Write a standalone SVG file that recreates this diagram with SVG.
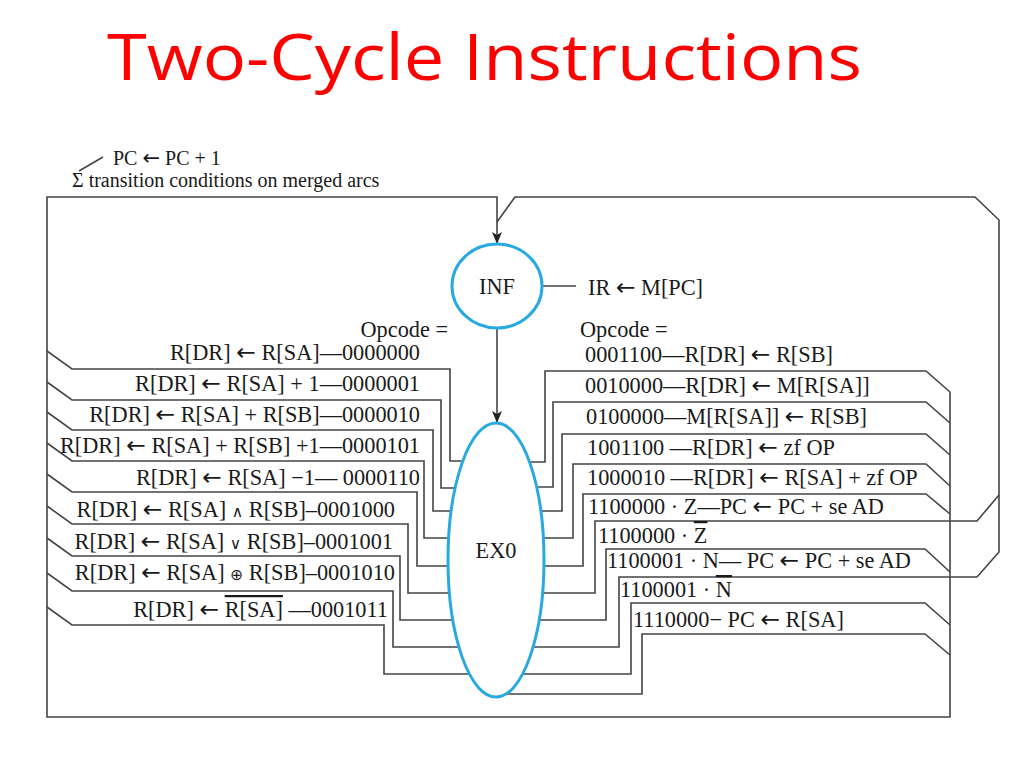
<svg xmlns="http://www.w3.org/2000/svg" width="1024" height="768" viewBox="0 0 1024 768">
<style>
.t{font-family:"Liberation Serif","DejaVu Serif",serif;font-size:22.3px;fill:#1a1a1a}
.s{font-family:"Liberation Serif","DejaVu Serif",serif;font-size:20px;fill:#1a1a1a}
.a{font-family:"DejaVu Sans",sans-serif;font-size:1.05em}
.o{font-family:"DejaVu Sans",sans-serif;font-size:0.7em}
.e{text-anchor:end}
.w{fill:none;stroke:#444;stroke-width:1.6}
.n{fill:#fff;stroke:#27a9e1;stroke-width:3}
.title{font-family:"Open Sans","DejaVu Sans",sans-serif;font-size:64px;fill:#ff0000}
.ov{text-decoration:overline}
</style>
<defs>
<marker id="ah" viewBox="0 0 12 10" refX="12" refY="5" markerWidth="12" markerHeight="10" markerUnits="userSpaceOnUse" orient="auto">
<path d="M0,0 L12,5 L0,10 L3,5 z" fill="#222"/>
</marker>
</defs>
<rect width="1024" height="768" fill="#fff"/>
<text class="title" x="107" y="80" textLength="755" lengthAdjust="spacingAndGlyphs">Two-Cycle Instructions</text>

<g id="legend">
<line class="w" x1="79" y1="171" x2="103" y2="157"/>
<text class="s" x="113" y="165">PC <tspan class="a">←</tspan> PC + 1</text>
<text class="s" x="72" y="187">Σ transition conditions on merged arcs</text>
</g>

<g id="connectors">
<path class="w" d="M950,392 V717 H47 V197 H497 V244" marker-end="url(#ah)"/>
<path class="w" d="M977,577 L999,552 V220 L975,197 H515 L497,222"/>
<line class="w" x1="542" y1="286" x2="576" y2="286"/>
<line class="w" x1="497" y1="328" x2="497" y2="423" marker-end="url(#ah)"/>
<path class="w" d="M47,351 L72,369 H450 V461 H463"/>
<path class="w" d="M47,382 L72,400 H441 V488 H455"/>
<path class="w" d="M47,412 L72,430 H433 V511 H451"/>
<path class="w" d="M47,443 L72,461 H424 V538 H449"/>
<path class="w" d="M47,474 L72,492 H417 V566 H448"/>
<path class="w" d="M47,506 L72,524 H408 V593 H449"/>
<path class="w" d="M47,538 L72,556 H400 V620 H453"/>
<path class="w" d="M47,573 L72,591 H393 V647 H459"/>
<path class="w" d="M47,607 L72,625 H384 V674 H469"/>
<path class="w" d="M529,462 H545 V371 H926 L950,392"/>
<path class="w" d="M537,487 H553 V402 H926 L950,423"/>
<path class="w" d="M541,511 H562 V434 H926 L950,455"/>
<path class="w" d="M543,538 H573 V464 H926 L950,486"/>
<path class="w" d="M544,566 H583 V494 H926 L950,514"/>
<path class="w" d="M543,593 H595 V521 H977 L999,495"/>
<path class="w" d="M539,620 H606 V549 H925 L950,572"/>
<path class="w" d="M533,647 H619 V577 H977"/>
<path class="w" d="M523,674 H631 V603 H925 L950,625"/>
<path class="w" d="M506,694 H642 V634 H925 L950,655"/>
</g>

<g id="INF">
<ellipse class="n" cx="497" cy="286" rx="45" ry="42"/>
<text class="t" x="497" y="294" text-anchor="middle">INF</text>
</g>
<g id="EX0">
<ellipse class="n" cx="496" cy="560" rx="48" ry="137"/>
<text class="t" x="496" y="558" text-anchor="middle">EX0</text>
</g>

<g id="labels">
<text class="t" x="588" y="295">IR <tspan class="a">←</tspan> M[PC]</text>
<text class="t e" x="448" y="337">Opcode =</text>
<text class="t" x="580" y="337">Opcode =</text>

<text class="t e" x="420" y="360">R[DR] <tspan class="a">←</tspan> R[SA]—0000000</text>
<text class="t e" x="420" y="391">R[DR] <tspan class="a">←</tspan> R[SA] + 1—0000001</text>
<text class="t e" x="420" y="422">R[DR] <tspan class="a">←</tspan> R[SA] + R[SB]—0000010</text>
<text class="t e" x="420" y="453">R[DR] <tspan class="a">←</tspan> R[SA] + R[SB] +1—0000101</text>
<text class="t e" x="420" y="485">R[DR] <tspan class="a">←</tspan> R[SA] −1— 0000110</text>
<text class="t e" x="395" y="517">R[DR] <tspan class="a">←</tspan> R[SA] <tspan class="o">∧</tspan> R[SB]–0001000</text>
<text class="t e" x="393" y="549">R[DR] <tspan class="a">←</tspan> R[SA] <tspan class="o">∨</tspan> R[SB]–0001001</text>
<text class="t e" x="395" y="580">R[DR] <tspan class="a">←</tspan> R[SA] <tspan class="o">⊕</tspan> R[SB]–0001010</text>
<text class="t e" x="388" y="617">R[DR] <tspan class="a">←</tspan> <tspan class="ov">R[SA]</tspan> —0001011</text>

<text class="t" x="585" y="362">0001100—R[DR] <tspan class="a">←</tspan> R[SB]</text>
<text class="t" x="585" y="393">0010000—R[DR] <tspan class="a">←</tspan> M[R[SA]]</text>
<text class="t" x="586" y="424">0100000—M[R[SA]] <tspan class="a">←</tspan> R[SB]</text>
<text class="t" x="587" y="455">1001100 —R[DR] <tspan class="a">←</tspan> zf OP</text>
<text class="t" x="587" y="485">1000010 —R[DR] <tspan class="a">←</tspan> R[SA] + zf OP</text>
<text class="t" x="588" y="514">1100000 · Z—PC <tspan class="a">←</tspan> PC + se AD</text>
<text class="t" x="598" y="543">1100000 · <tspan class="ov">Z</tspan></text>
<text class="t" x="607" y="568">1100001 · N— PC <tspan class="a">←</tspan> PC + se AD</text>
<text class="t" x="620" y="597">1100001 · <tspan class="ov">N</tspan></text>
<text class="t" x="633" y="627">1110000− PC <tspan class="a">←</tspan> R[SA]</text>
</g>
</svg>
